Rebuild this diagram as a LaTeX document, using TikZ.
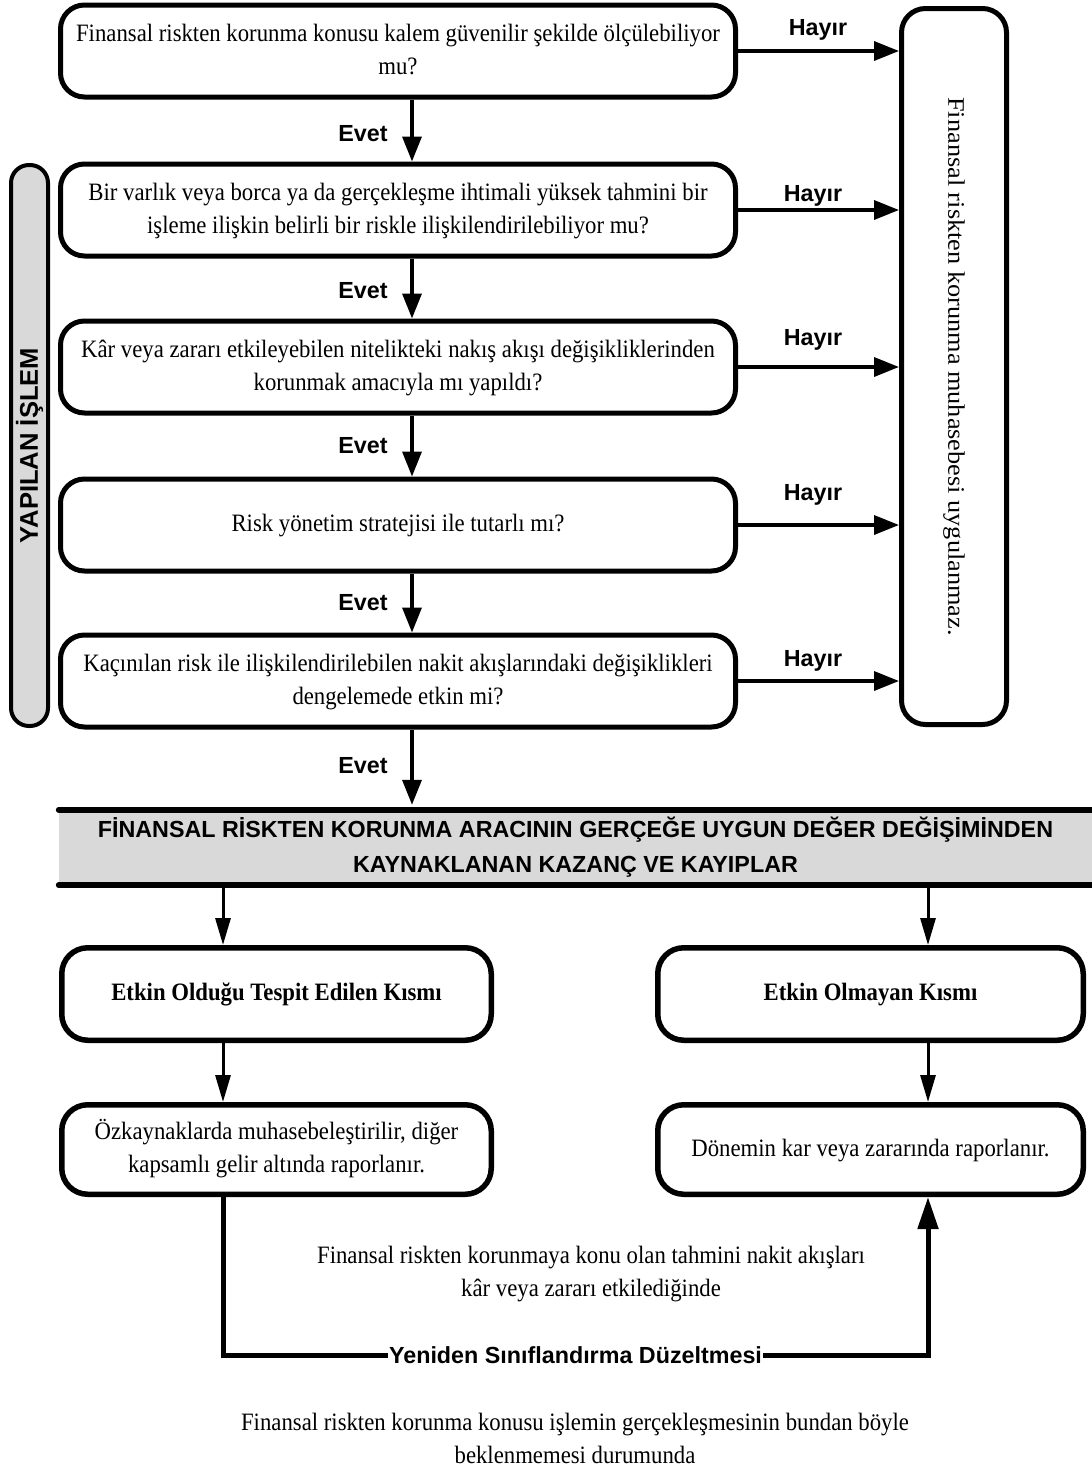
\documentclass[tikz,border=0pt]{standalone}
\usepackage{fontspec}
\usepackage{graphicx}
\setmainfont{Liberation Serif}
\setsansfont{Liberation Sans}
\usetikzlibrary{arrows.meta}
\definecolor{lg}{HTML}{D9D9D9}
\newcommand\cnd[1]{\scalebox{0.91}[1]{\begin{tabular}{@{}c@{}}#1\end{tabular}}}
\begin{document}
\begin{tikzpicture}[x=1pt,y=-1pt,
  serif/.style={font=\fontsize{25}{33}\selectfont},
  lab/.style={font=\sffamily\bfseries\fontsize{23.3}{28}\selectfont, text height=16.7pt, text depth=0pt, inner sep=0pt},
  qbox/.style={draw, line width=5pt, rounded corners=24pt, minimum width=675pt, minimum height=92pt, inner sep=0pt, serif},
  arr/.style={line width=3.5pt, -{Triangle[length=25pt,width=19pt]}},
  barr/.style={line width=3pt, -{Triangle[length=27pt,width=15pt]}},
  bbox/.style={draw, line width=5.5pt, rounded corners=26pt, inner sep=0pt, serif},
]
\useasboundingbox (0,0) rectangle (1092,1470);

% question boxes
\node[qbox] (b1) at (398,51) {\cnd{Finansal riskten korunma konusu kalem güvenilir şekilde ölçülebiliyor\\mu?}};
\node[qbox] (b2) at (398,210) {\cnd{Bir varlık veya borca ya da gerçekleşme ihtimali yüksek tahmini bir\\işleme ilişkin belirli bir riskle ilişkilendirilebiliyor mu?}};
\node[qbox] (b3) at (398,367) {\cnd{Kâr veya zararı etkileyebilen nitelikteki nakış akışı değişikliklerinden\\korunmak amacıyla mı yapıldı?}};
\node[qbox] (b4) at (398,525) {\cnd{Risk yönetim stratejisi ile tutarlı mı?}};
\node[qbox] (b5) at (398,681) {\cnd{Kaçınılan risk ile ilişkilendirilebilen nakit akışlarındaki değişiklikleri\\dengelemede etkin mi?}};

% right box
\node[draw, line width=5pt, rounded corners=24pt, minimum width=105pt, minimum height=716pt, inner sep=0pt] (R) at (954,366.5)
  {\rotatebox{-90}{\fontsize{23.7}{28}\selectfont\scalebox{1.11}[1]{Finansal riskten korunma muhasebesi uygulanmaz.}}};

% side pill
\node[draw, fill=lg, line width=4pt, rounded corners=18pt, minimum width=37pt, minimum height=561pt, inner sep=0pt] (P) at (29.5,445.5)
  {\rotatebox{90}{\sffamily\bfseries\fontsize{25.6}{30}\selectfont YAPILAN İŞLEM}};

% header bar
\node[fill=lg, minimum width=1033pt, minimum height=75pt, inner sep=0pt, align=center,
  font=\sffamily\bfseries\fontsize{23.3}{35}\selectfont] (H) at (575.5,847.5)
  {FİNANSAL RİSKTEN KORUNMA ARACININ GERÇEĞE UYGUN DEĞER DEĞİŞİMİNDEN\\KAYNAKLANAN KAZANÇ VE KAYIPLAR};
\draw[line width=6pt, line cap=round] (H.north west) -- (H.north east);
\draw[line width=6pt, line cap=round] (H.south west) -- (H.south east);

% labels
\node[lab] (e1) at (363,133) {Evet};
\node[lab] (e2) at (363,290) {Evet};
\node[lab] (e3) at (363,445) {Evet};
\node[lab] (e4) at (363,602) {Evet};
\node[lab] (e5) at (363,765) {Evet};
\node[lab] (h1) at (818,27) {Hayır};
\node[lab] (h2) at (813,193) {Hayır};
\node[lab] (h3) at (813,337) {Hayır};
\node[lab] (h4) at (813,492) {Hayır};
\node[lab] (h5) at (813,658) {Hayır};

% Evet arrows
\coordinate (ex) at (412,0);
\draw[arr] (b1.south -| ex) -- (b2.north -| ex);
\draw[arr] (b2.south -| ex) -- (b3.north -| ex);
\draw[arr] (b3.south -| ex) -- (b4.north -| ex);
\draw[arr] (b4.south -| ex) -- (b5.north -| ex);
\draw[arr, shorten >=5pt] (b5.south -| ex) -- (H.north -| ex);

% Hayir arrows
\draw[arr] (b1.east) -- (b1.east -| R.west);
\draw[arr] (b2.east) -- (b2.east -| R.west);
\draw[arr] (b3.east) -- (b3.east -| R.west);
\draw[arr] (b4.east) -- (b4.east -| R.west);
\draw[arr] (b5.east) -- (b5.east -| R.west);

% bottom boxes
\node[bbox, minimum width=429.5pt, minimum height=92.5pt] (L1) at (276.5,994) {\cnd{\bfseries Etkin Olduğu Tespit Edilen Kısmı}};
\node[bbox, minimum width=425.5pt, minimum height=92.5pt] (R1) at (870.5,994) {\cnd{\bfseries Etkin Olmayan Kısmı}};
\node[bbox, minimum width=429.5pt, minimum height=89.5pt] (L2) at (276.5,1149.5) {\cnd{Özkaynaklarda muhasebeleştirilir, diğer\\kapsamlı gelir altında raporlanır.}};
\node[bbox, minimum width=425.5pt, minimum height=89.5pt] (R2) at (870.5,1149.5) {\cnd{Dönemin kar veya zararında raporlanır.}};

\coordinate (lx) at (223,0);
\coordinate (rx) at (928,0);
\coordinate (ly) at (0,1355);
\draw[barr] (H.south -| lx) -- (L1.north -| lx);
\draw[barr] (H.south -| rx) -- (R1.north -| rx);
\draw[barr] (L1.south -| lx) -- (L2.north -| lx);
\draw[barr] (R1.south -| rx) -- (R2.north -| rx);
\draw[line width=5pt, -{Triangle[length=32pt,width=20pt]}] (L2.south -| lx) -- (lx |- ly) -- (rx |- ly) -- (R2.south -| rx);
\node[lab, fill=white, inner xsep=1pt, inner ysep=4pt] (yl) at (575.5,1355) {Yeniden Sınıflandırma Düzeltmesi};

\node[serif] (t1) at (591,1273.5) {\cnd{Finansal riskten korunmaya konu olan tahmini nakit akışları\\kâr veya zararı etkilediğinde}};
\node[serif] (t2) at (575,1440) {\cnd{Finansal riskten korunma konusu işlemin gerçekleşmesinin bundan böyle\\beklenmemesi durumunda}};
\end{tikzpicture}
\end{document}
